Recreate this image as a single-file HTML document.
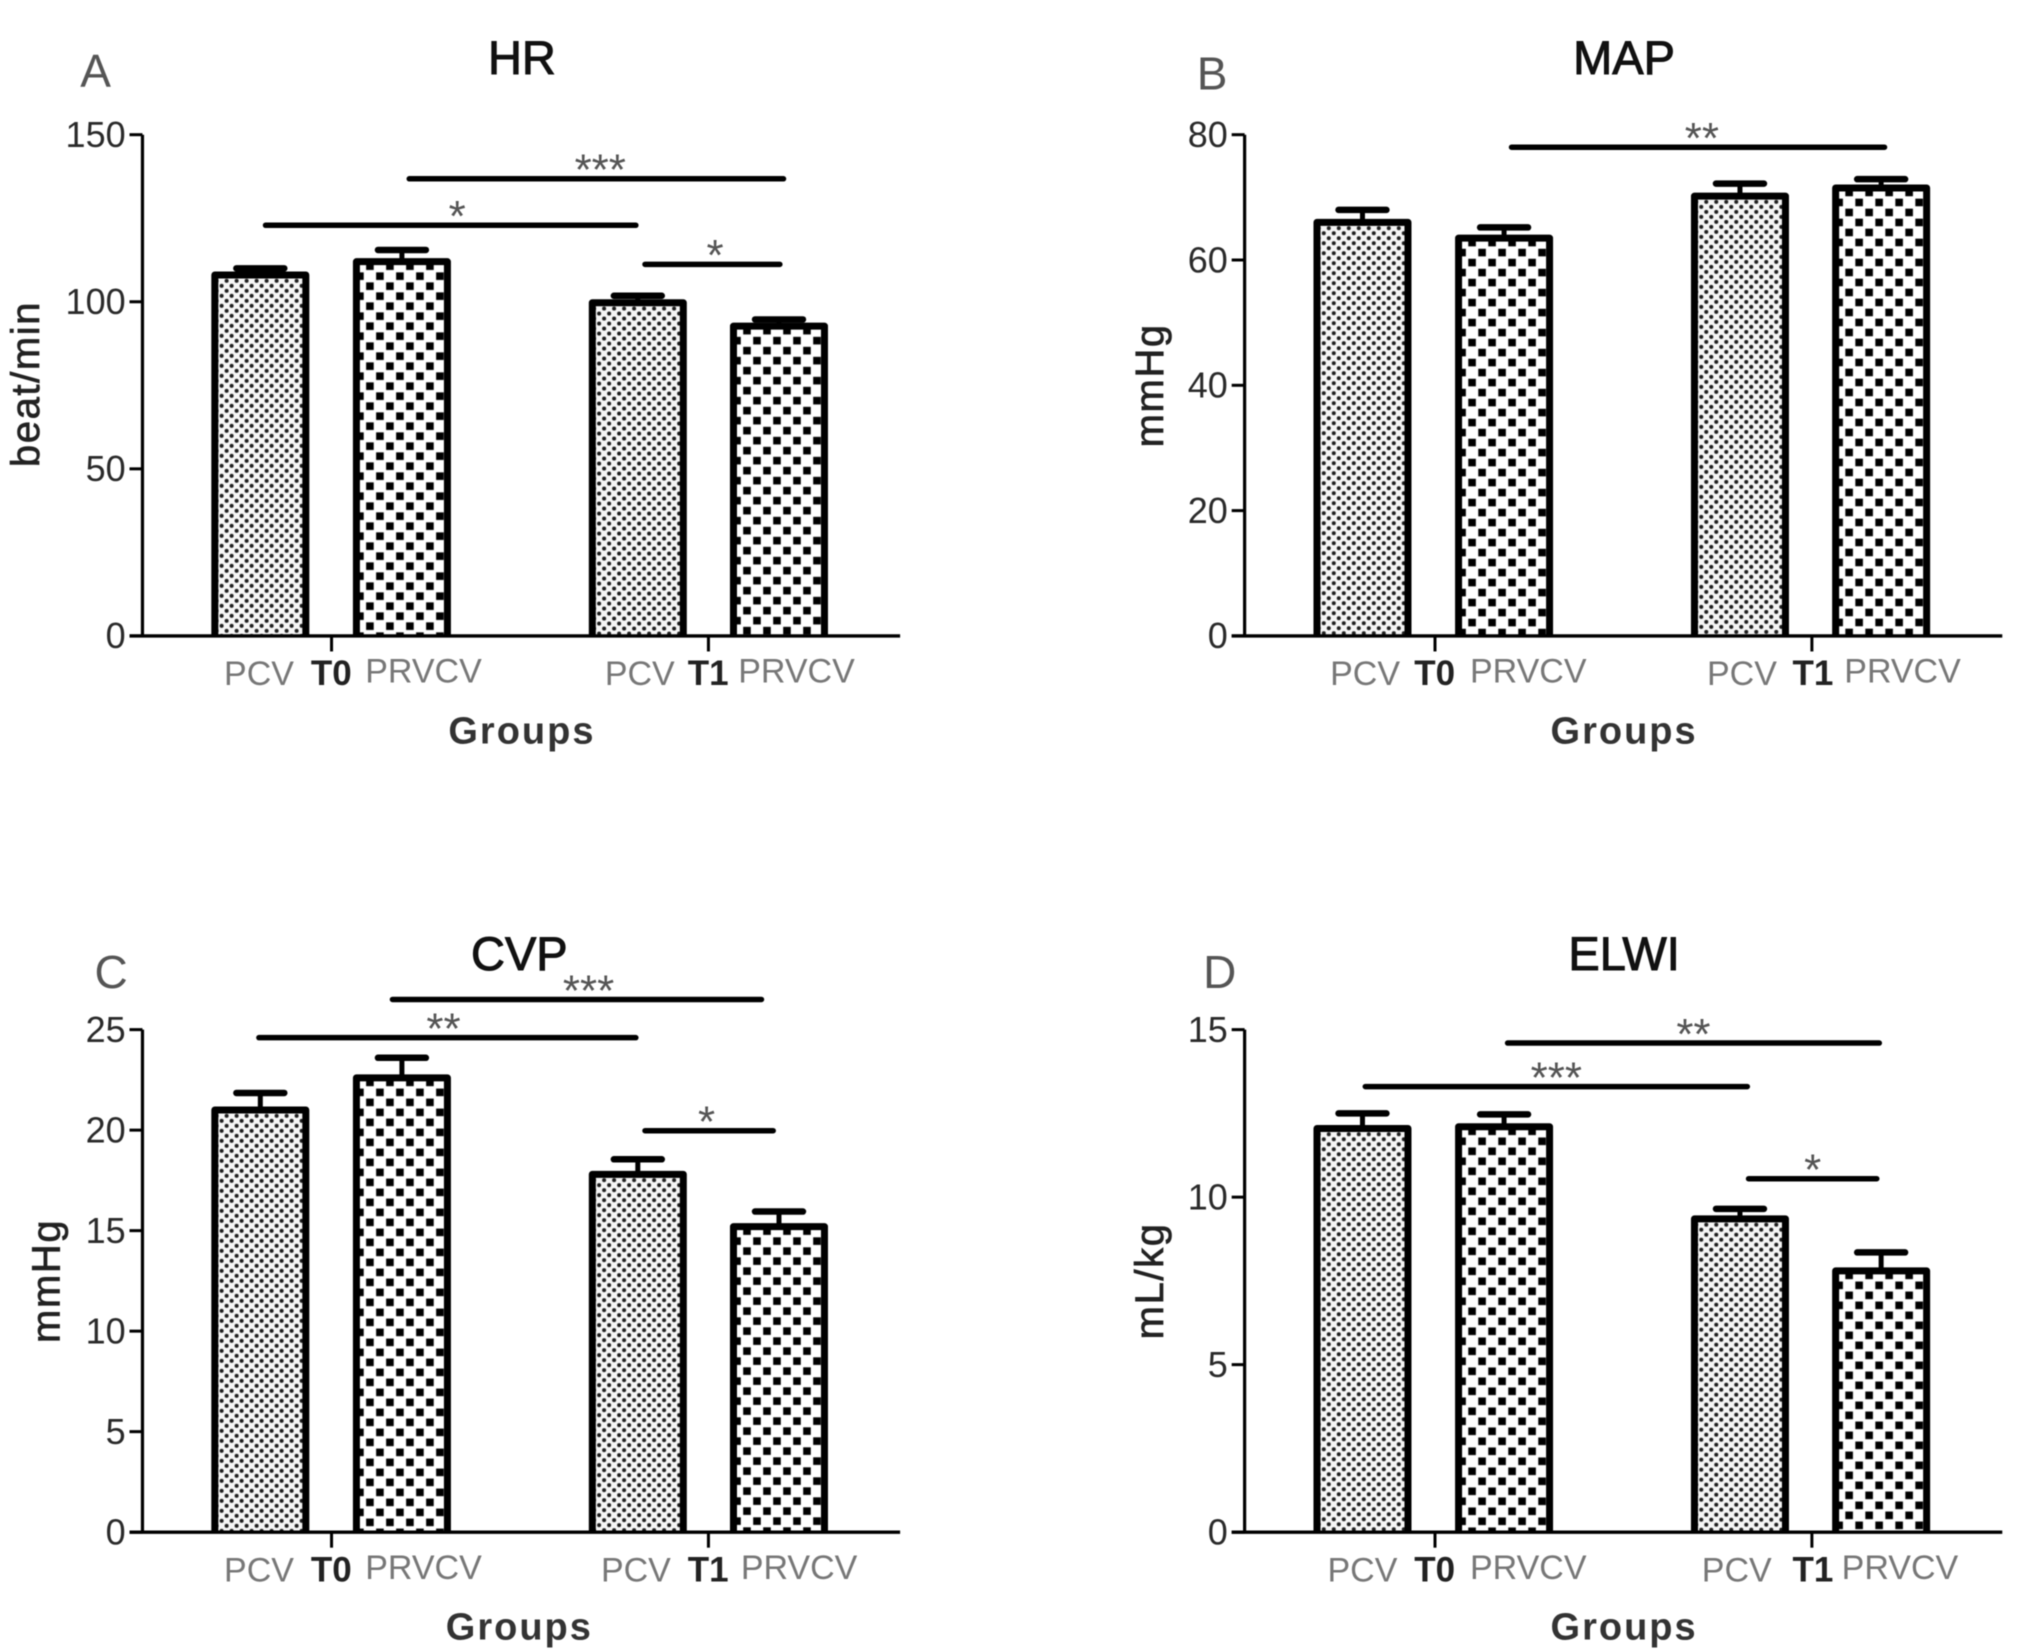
<!DOCTYPE html>
<html lang="en">
<head>
<meta charset="utf-8">
<title>Hemodynamic parameters by group</title>
<style>
html,body{margin:0;padding:0;background:#fff;width:2029px;height:1650px;overflow:hidden}
svg{display:block;filter:blur(0.6px)}
text{font-family:"Liberation Sans",sans-serif}
</style>
</head>
<body>
<svg id="figure" xmlns="http://www.w3.org/2000/svg" width="2029" height="1650" viewBox="0 0 2029 1650">
</svg>
<script>
// Panel A: HR
const hrValues = [108, 112, 99.7, 92.7];
const hrErrors = [2, 3.5, 2.1, 2];
const hrTicks = [0, 50, 100, 150];
const hrBrackets = [[0.037, 2.66, 122.9, "*"], [1.055, 3.706, 136.8, "***"], [2.725, 3.68, 111.2, "*"]];
// Panel B: MAP
const mapValues = [66, 63.5, 70.2, 71.5];
const mapErrors = [2, 1.7, 2, 1.4];
const mapTicks = [0, 20, 40, 60, 80];
const mapBrackets = [[1.056, 3.698, 78, "**"]];
// Panel C: CVP
const cvpValues = [21, 22.6, 17.8, 15.2];
const cvpErrors = [0.85, 1, 0.75, 0.75];
const cvpTicks = [0, 5, 10, 15, 20, 25];
const cvpBrackets = [[-0.01, 2.66, 24.6, "**"], [0.936, 3.55, 26.5, "***"], [2.725, 3.633, 19.97, "*"]];
// Panel D: ELWI
const elwiValues = [12.05, 12.1, 9.35, 7.8];
const elwiErrors = [0.45, 0.37, 0.3, 0.55];
const elwiTicks = [0, 5, 10, 15];
const elwiBrackets = [[0.02, 2.726, 13.3, "***"], [1.028, 3.661, 14.6, "**"], [2.735, 3.643, 10.55, "*"]];
const groupCategories = ["PCV", "PRVCV", "PCV", "PRVCV"];
const groupNames = ["T0", "T1"];

const svg = document.getElementById('figure');
const NS = 'http://www.w3.org/2000/svg';
const S = 1650 / 1274;
let patternCount = 0;

function make(tag, attrs, parent) {
  const el = document.createElementNS(NS, tag);
  for (const k in attrs) el.setAttribute(k, attrs[k]);
  (parent || svg).appendChild(el);
  return el;
}
function line(x1, y1, x2, y2, w, cap) {
  return make('line', {x1: x1 * S, y1: y1 * S, x2: x2 * S, y2: y2 * S, stroke: '#000', 'stroke-width': w, 'stroke-linecap': cap || 'butt'});
}
function label(x, y, str, size, fill, anchor, extra) {
  const el = make('text', Object.assign({x: x * S, y: y * S, 'font-size': size, fill: fill, 'text-anchor': anchor || 'start'}, extra || {}));
  el.textContent = str;
  return el;
}
function barPattern(isFine, left, top) {
  const id = 'bar-fill-' + (++patternCount);
  if (isFine) {
    const p = make('pattern', {id: id, patternUnits: 'userSpaceOnUse', width: 10, height: 10, patternTransform: 'translate(' + (left - 2.7) + ',' + (top + 2.3) + ')'});
    make('rect', {width: 10, height: 10, fill: '#f5f5f5'}, p);
    make('circle', {cx: 3, cy: 2, r: 2, fill: '#1e1e1e'}, p);
    make('circle', {cx: 8, cy: 7, r: 2, fill: '#1e1e1e'}, p);
  } else {
    const p = make('pattern', {id: id, patternUnits: 'userSpaceOnUse', width: 20, height: 20, patternTransform: 'translate(' + (left + 2) + ',' + (top + 3) + ')'});
    make('rect', {width: 20, height: 20, fill: '#fff'}, p);
    make('rect', {x: 1.2, y: 11.2, width: 7.6, height: 7.6, fill: '#000'}, p);
    make('rect', {x: 11.2, y: 1.2, width: 7.6, height: 7.6, fill: '#000'}, p);
  }
  return 'url(#' + id + ')';
}

function drawPanel(p) {
  const axisX = p.left, base = p.base, top = p.top;
  const yPos = v => base - (v / p.max) * (base - top);
  const xPos = u => p.first + u * 109;

  const letter = label(p.letterX, p.letterY, p.letter, 46, '#555', 'start');
  
  

  const title = label(p.titleX, p.titleY, p.title, 47, '#111', 'middle', {stroke: '#111', 'stroke-width': 1});
  
  

  // bars with error bars
  p.values.forEach((v, i) => {
    const cx = xPos(p.slots[i]);
    const hi = yPos(v + p.errors[i]);
    const stem = line(cx, yPos(v), cx, hi, 5);
    
    
    const cap = line(cx - 18.5, hi, cx + 18.5, hi, 6.5, 'round');
    
    
    const sw = 7;
    const l = cx * S - 49 + sw / 2, r = cx * S + 49 - sw / 2;
    const t = yPos(v) * S, b = base * S;
    const bar = make('path', {
      d: 'M' + l + ' ' + b + 'V' + t + 'H' + r + 'V' + b,
      fill: barPattern(i % 2 === 0, l - sw / 2, t - sw / 2),
      stroke: '#000', 'stroke-width': sw, 'stroke-linejoin': 'round'
    });
    
    
  });

  // axes
  const yAxis = line(axisX, top, axisX, base, 3.2);
  
  
  const xAxis = line(axisX - 10, base, axisX + 585, base, 3.4);
  
  

  p.ticks.forEach(t => {
    const tick = line(axisX - 10, yPos(t), axisX, yPos(t), 3);
    
    
    const tl = label(axisX - 13, yPos(t) + 9.5, String(t), 36, '#2a2a2a', 'end');
    
    
  });

  // x labels
  [p.groupTick0, p.groupTick1].forEach(gx => {
    const gt = line(gx, base, gx, base + 12, 3);
    
    
  });
  groupCategories.forEach((c, i) => {
    const lb = label(p.catX[i], base + (i % 2 ? 36 : 38), c, 34, '#777', 'start');
    
    
  });
  groupNames.forEach((g, i) => {
    const lb = label(p.nameX[i], base + 38, g, 35, '#222', 'start', {'font-weight': 'bold'});
    
    
  });

  const xt = label(p.titleX, base + 83, 'Groups', 38, '#333', 'middle', {'font-weight': 'bold', 'letter-spacing': '2px'});
  
  

  const yt = make('text', {
    transform: 'translate(' + (p.ylabX * S) + ',' + (((base + top) / 2 + p.ylabShift) * S) + ') rotate(-90)',
    'font-size': 40, fill: '#222', 'text-anchor': 'middle', stroke: '#222', 'stroke-width': 0.7, 'letter-spacing': '1.6px'
  });
  yt.textContent = p.ylabel;
  
  

  // significance brackets
  p.brackets.forEach((b, i) => {
    const x1 = xPos(b[0]), x2 = xPos(b[1]), y = yPos(b[2]);
    const br = line(x1, y, x2, y, 5.5, 'round');
    
    
    const st = label((x1 + x2) / 2 + p.starShift[i], y + 4.5, b[3], 44, '#555', 'middle');
    
    
  });
}

const slots = [0, 1.003, 2.674, 3.674];
drawPanel({letter: 'A', letterX: 62, letterY: 67, title: 'HR', titleX: 403, titleY: 57, ylabel: 'beat/min', ylabX: 30, ylabShift: -1,
  left: 110, top: 104, base: 491, max: 150, first: 201, slots: slots, values: hrValues, errors: hrErrors, ticks: hrTicks, brackets: hrBrackets, starShift: [5, 3, 2],
  groupTick0: 256, groupTick1: 547, catX: [173, 282, 467, 570], nameX: [240, 531]});
drawPanel({letter: 'B', letterX: 924, letterY: 69, title: 'MAP', titleX: 1254, titleY: 57, ylabel: 'mmHg', ylabX: 898, ylabShift: 0,
  left: 961, top: 104, base: 491, max: 80, first: 1052, slots: slots, values: mapValues, errors: mapErrors, ticks: mapTicks, brackets: mapBrackets, starShift: [3],
  groupTick0: 1108, groupTick1: 1399, catX: [1027, 1135, 1318, 1424], nameX: [1092, 1384]});
drawPanel({letter: 'C', letterX: 73, letterY: 763, title: 'CVP', titleX: 401, titleY: 749, ylabel: 'mmHg', ylabX: 46, ylabShift: 0,
  left: 110, top: 795, base: 1183, max: 25, first: 201, slots: slots, values: cvpValues, errors: cvpErrors, ticks: cvpTicks, brackets: cvpBrackets, starShift: [-3, 9, -2],
  groupTick0: 256, groupTick1: 547, catX: [173, 282, 464, 572], nameX: [240, 531]});
drawPanel({letter: 'D', letterX: 929, letterY: 763, title: 'ELWI', titleX: 1254, titleY: 749, ylabel: 'mL/kg', ylabX: 898, ylabShift: 0,
  left: 961, top: 795, base: 1183, max: 15, first: 1052, slots: slots, values: elwiValues, errors: elwiErrors, ticks: elwiTicks, brackets: elwiBrackets, starShift: [0, 0, 0],
  groupTick0: 1108, groupTick1: 1399, catX: [1025, 1135, 1314, 1422], nameX: [1092, 1384]});
</script>
</body>
</html>
